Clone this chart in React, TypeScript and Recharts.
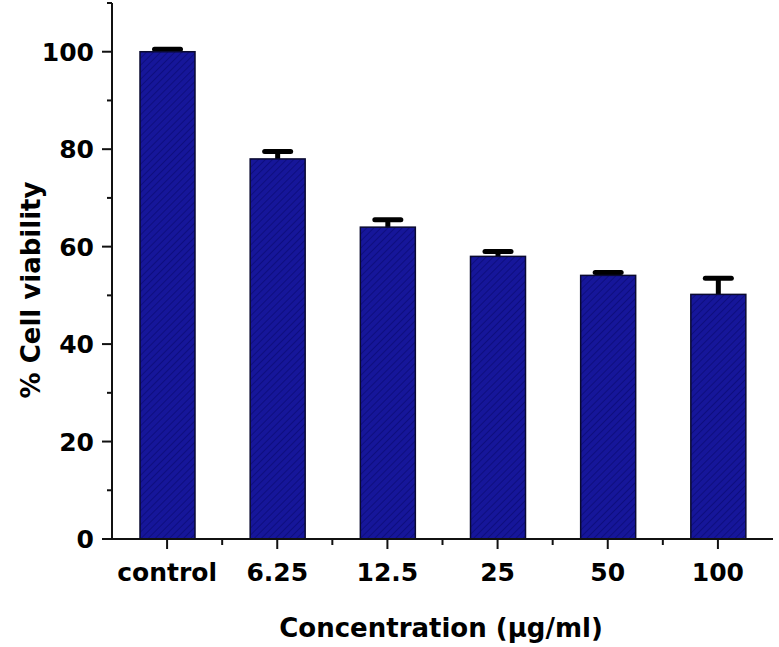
import React from "react";
import { BarChart, Bar, XAxis, YAxis } from "recharts";

const categories = ["control", "6.25", "12.5", "25", "50", "100"];
const viability = [100, 78, 64, 58, 54.1, 50.2];
const errorUp = [0.5, 1.5, 1.5, 1.0, 0.6, 3.3];
const yTicks = [0, 10, 20, 30, 40, 50, 60, 70, 80, 90, 100, 110];
const yLabels = [0, 20, 40, 60, 80, 100];

const data = categories.map((c, i) => ({
  name: c,
  value: viability[i],
  err: errorUp[i],
}));

const W = 779;
const H = 647;
const LEFT = 112;
const RIGHT = 6;
const FONT = "'DejaVu Sans', sans-serif";
const HALF_BAND = (W - LEFT - RIGHT) / categories.length / 2;

function YTick({ x, y, payload }: any) {
  const major = yLabels.includes(payload.value);
  return (
    <g>
      <line x1={x - (major ? 10 : 5)} x2={x} y1={y} y2={y} stroke="#111" strokeWidth={2} />
      {major && (
        <text x={x - 18} y={y} dy="0.36em" textAnchor="end" fontFamily={FONT} fontWeight="bold" fontSize={25} fill="#000">
          {payload.value}
        </text>
      )}
    </g>
  );
}

function XTick({ x, y, payload, index }: any) {
  return (
    <g>
      <line x1={x} x2={x} y1={y} y2={y + 10} stroke="#111" strokeWidth={2} />
      {index < categories.length - 1 && (
        <line x1={x + HALF_BAND} x2={x + HALF_BAND} y1={y} y2={y + 6} stroke="#111" strokeWidth={2} />
      )}
      <text x={x} y={y + 42} textAnchor="middle" fontFamily={FONT} fontWeight="bold" fontSize={25} fill="#000">
        {payload.value}
      </text>
    </g>
  );
}

// error bar drawn first so the bar hides its lower half, like the original
function BarWithError(props: any) {
  const { x, y, width, height, payload } = props;
  const pxPerUnit = height / payload.value;
  const e = payload.err * pxPerUnit;
  const cx = x + width / 2;
  return (
    <g>
      <line x1={cx} x2={cx} y1={y - e} y2={y + e} stroke="#000" strokeWidth={5} />
      <line x1={cx - 13} x2={cx + 13} y1={y - e} y2={y - e} stroke="#000" strokeWidth={5} strokeLinecap="round" />
      <rect x={x} y={y} width={width} height={height} fill="url(#hatch)" stroke="#0a0a30" strokeWidth={1.5} />
    </g>
  );
}

export default function App() {
  return (
    <div style={{ position: "absolute", left: 0, top: 0, background: "#fff" }}>
      <BarChart width={W} height={H} data={data} margin={{ top: 3, right: RIGHT, bottom: 0, left: 0 }}>
        <defs>
          <pattern id="hatch" width="5" height="5" patternUnits="userSpaceOnUse" patternTransform="rotate(45)">
            <rect width="5" height="5" fill="#16169a" />
            <line x1="0" y1="0" x2="0" y2="5" stroke="#0c0c78" strokeWidth="1.6" />
          </pattern>
        </defs>
        <XAxis
          dataKey="name"
          height={108}
          tickSize={0}
          tickMargin={0}
          tickLine={false}
          interval={0}
          axisLine={{ stroke: "#111", strokeWidth: 2 }}
          tick={<XTick />}
          label={{
            content: () => (
              <text x={441} y={637} textAnchor="middle" fontFamily={FONT} fontWeight="bold" fontSize={26} fill="#000">
                Concentration (µg/ml)
              </text>
            ),
          }}
        />
        <XAxis xAxisId="top" dataKey="name" orientation="top" height={0} tick={false} tickLine={false} axisLine={{ stroke: "#111", strokeWidth: 2 }} />
        <YAxis
          width={LEFT}
          domain={[0, 110]}
          ticks={yTicks}
          interval={0}
          tickSize={0}
          tickMargin={0}
          tickLine={false}
          axisLine={{ stroke: "#111", strokeWidth: 2 }}
          tick={<YTick />}
          label={{
            content: () => (
              <text transform="translate(40,290) rotate(-90)" textAnchor="middle" fontFamily={FONT} fontWeight="bold" fontSize={26} fill="#000">
                % Cell viability
              </text>
            ),
          }}
        />
        <YAxis yAxisId="right" orientation="right" width={0} domain={[0, 110]} tick={false} tickLine={false} axisLine={{ stroke: "#111", strokeWidth: 2 }} />
        <Bar dataKey="value" barSize={55} shape={<BarWithError />} isAnimationActive={false} />
      </BarChart>
    </div>
  );
}
